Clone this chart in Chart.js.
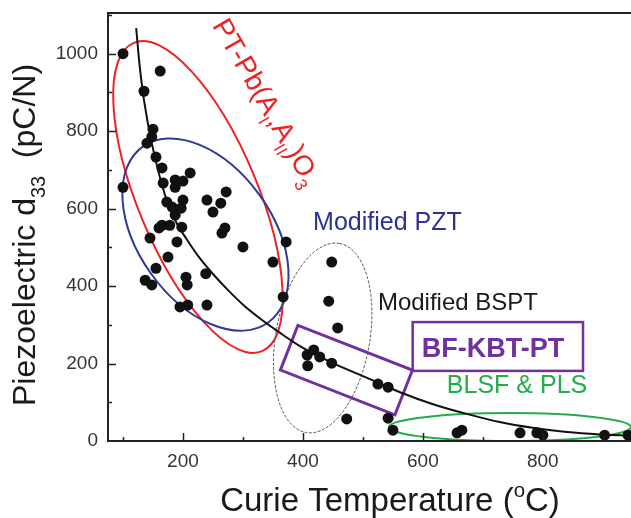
<!DOCTYPE html>
<html>
<head>
<meta charset="utf-8">
<script src="https://cdn.jsdelivr.net/npm/chart.js@4.4.0/dist/chart.umd.min.js"></script>
<style>
  html, body { margin: 0; padding: 0; background: #fff; overflow: hidden; }
  #wrap { width: 631px; height: 518px; position: relative; }
</style>
</head>
<body>
<div id="wrap"><canvas id="chart"></canvas></div>
<script>
// measured points (Curie temperature in C, d33 in pC/N)
var tempC = [100, 162, 135, 150, 148, 140, 155, 165, 167, 187, 200, 212, 187, 100, 272, 240, 200, 173, 263, 182,
             197, 250, 187, 165, 178, 160, 198, 270, 265, 145, 190, 300, 372, 175, 155, 350, 238, 137, 148, 205,
             207, 195, 208, 240, 367, 448, 443, 458, 407, 418, 428, 408, 448, 525, 542, 473, 542, 550, 657, 665,
             762, 790, 800, 903, 942];
var d33 = [1000, 955, 903, 805, 785, 769, 733, 705, 666, 674, 671, 692, 655, 655, 643, 622, 622, 617, 614, 604,
           601, 591, 583, 557, 557, 550, 552, 550, 537, 524, 514, 501, 514, 475, 446, 462, 432, 415, 403, 423,
           403, 346, 351, 351, 372, 462, 361, 292, 222, 235, 217, 194, 201, 147, 139, 57, 59, 28, 21, 28,
           21, 21, 15, 15, 15];

// fitted trend line
var fitTemp = [122, 128, 135, 148, 170, 187, 207, 228, 253, 278, 303, 328, 362, 395, 450, 507, 562, 617, 673, 728, 783, 840, 895, 947];
var fitD33 = [1066, 965, 880, 769, 635, 570, 519, 472, 426, 385, 348, 317, 279, 245, 201, 163, 126, 95, 70, 49, 34, 23, 17, 14];

var xTickLabels = [200, 400, 600, 800];
var yTickLabels = [0, 200, 400, 600, 800, 1000];

var FONT = "'Liberation Sans', Arial, sans-serif";

// group outlines: centre in data units, radii in px, rotation in degrees
var ellipses = [
    { x: 225, y: 630, rx: 167, ry: 60, rot: 67.4, color: '#ee2126', width: 2, dash: [] },
    { x: 237.5, y: 533, rx: 108, ry: 67, rot: 54.5, color: '#2e3a9c', width: 2, dash: [] },
    { x: 433, y: 266, rx: 96, ry: 47, rot: -80, color: '#555555', width: 1, dash: [3, 1.5] },
    { x: 745, y: 36, rx: 121, ry: 14, rot: 0, color: '#22ad4b', width: 2, dash: [] }
];
var box = { x: 472.5, y: 183, w: 123, h: 48, rot: 21.4, color: '#7030a0', width: 3 };

var notes = [
    { parts: [['Modified PZT', '']], x: 417, y: 545, size: 25, color: '#2e3192', weight: '' },
    { parts: [['Modified BSPT', '']], x: 525, y: 338, size: 24, color: '#1a1a1a', weight: '' },
    { parts: [['BLSF & PLS', '']], x: 640, y: 124, size: 25, color: '#22ad4b', weight: '' },
    { parts: [['BF-KBT-PT', '']], x: 598, y: 217, size: 27, color: '#7030a0', weight: 'bold ' }
];
var labelBox = { x1: 583, y1: 307, x2: 867, y2: 181, color: '#7030a0', width: 2.5 };
var redNote = { parts: [['PT-Pb(A', ''], ['I', 'sub'], [',A', ''], ['II', 'sub'], [')O', ''], ['3', 'sub']],
    x: 248, y: 1073, size: 28, rot: 60, color: '#ee2126' };

function drawRich(ctx, parts, x, y, size, weight, align) {
    var total = 0;
    parts.forEach(function (p) {
        ctx.font = weight + (p[1] ? size * 0.62 : size) + 'px ' + FONT;
        total += ctx.measureText(p[0]).width;
    });
    var cx = align === 'center' ? x - total / 2 : x;
    parts.forEach(function (p) {
        var s = p[1] ? size * 0.62 : size;
        ctx.font = weight + s + 'px ' + FONT;
        var dy = p[1] === 'sub' ? size * 0.3 : (p[1] === 'sup' ? -size * 0.42 : 0);
        ctx.fillText(p[0], cx, y + dy);
        cx += ctx.measureText(p[0]).width;
    });
}

var decor = {
    id: 'decor',
    beforeDatasetsDraw: function (chart) {
        var ctx = chart.ctx, xs = chart.scales.x, ys = chart.scales.y;
        ctx.save();
        ellipses.forEach(function (e) {
            ctx.beginPath();
            ctx.ellipse(xs.getPixelForValue(e.x), ys.getPixelForValue(e.y), e.rx, e.ry, e.rot * Math.PI / 180, 0, Math.PI * 2);
            ctx.strokeStyle = e.color;
            ctx.lineWidth = e.width;
            ctx.setLineDash(e.dash);
            ctx.stroke();
        });
        ctx.setLineDash([]);
        ctx.translate(xs.getPixelForValue(box.x), ys.getPixelForValue(box.y));
        ctx.rotate(box.rot * Math.PI / 180);
        ctx.strokeStyle = box.color;
        ctx.lineWidth = box.width;
        ctx.strokeRect(-box.w / 2, -box.h / 2, box.w, box.h);
        ctx.restore();
    },
    afterDraw: function (chart) {
        var ctx = chart.ctx, xs = chart.scales.x, ys = chart.scales.y, a = chart.chartArea;
        ctx.save();
        // axes and top frame
        ctx.strokeStyle = '#222';
        ctx.lineWidth = 2;
        ctx.beginPath();
        ctx.moveTo(chart.width, a.top);
        ctx.lineTo(a.left, a.top);
        ctx.lineTo(a.left, a.bottom);
        ctx.lineTo(chart.width, a.bottom);
        ctx.stroke();
        // inward ticks
        ctx.lineWidth = 1.5;
        ctx.beginPath();
        for (var v = 100; v < xs.max; v += 100) {
            var px = Math.round(xs.getPixelForValue(v)) + 0.5;
            var len = v % 200 === 0 ? 8 : 4;
            ctx.moveTo(px, a.bottom);
            ctx.lineTo(px, a.bottom - len);
        }
        for (var w = 100; w < ys.max; w += 100) {
            var py = Math.round(ys.getPixelForValue(w)) + 0.5;
            var l2 = w % 200 === 0 ? 8 : 4;
            ctx.moveTo(a.left, py);
            ctx.lineTo(a.left + l2, py);
        }
        ctx.stroke();

        // axis titles
        ctx.fillStyle = '#1a1a1a';
        ctx.textBaseline = 'alphabetic';
        drawRich(ctx, [['Curie Temperature (', ''], ['o', 'sup'], ['C)', '']], 390, 511, 33, '', 'center');
        ctx.save();
        ctx.translate(35, 235);
        ctx.rotate(-Math.PI / 2);
        drawRich(ctx, [['Piezoelectric d', ''], ['33', 'sub'], ['  (pC/N)', '']], 0, 0, 32, '', 'center');
        ctx.restore();

        // notes
        notes.forEach(function (n) {
            ctx.fillStyle = n.color;
            drawRich(ctx, n.parts, xs.getPixelForValue(n.x), ys.getPixelForValue(n.y), n.size, n.weight, 'left');
        });
        var bx1 = xs.getPixelForValue(labelBox.x1), by1 = ys.getPixelForValue(labelBox.y1);
        var bx2 = xs.getPixelForValue(labelBox.x2), by2 = ys.getPixelForValue(labelBox.y2);
        ctx.strokeStyle = labelBox.color;
        ctx.lineWidth = labelBox.width;
        ctx.strokeRect(bx1, by1, bx2 - bx1, by2 - by1);

        ctx.save();
        ctx.translate(xs.getPixelForValue(redNote.x), ys.getPixelForValue(redNote.y));
        ctx.rotate(redNote.rot * Math.PI / 180);
        ctx.fillStyle = redNote.color;
        drawRich(ctx, redNote.parts, 0, 0, redNote.size, '', 'left');
        ctx.restore();
        ctx.restore();
    }
};

var points = [];
for (var i = 0; i < tempC.length; i++) {
    points.push({ x: tempC[i], y: d33[i] });
}
var fit = [];
for (var j = 0; j < fitTemp.length; j++) {
    fit.push({ x: fitTemp[j], y: fitD33[j] });
}

new Chart(document.getElementById('chart').getContext('2d'), {
    type: 'scatter',
    data: {
        datasets: [{
            data: points,
            backgroundColor: '#111',
            borderColor: '#111',
            borderWidth: 0,
            pointRadius: 5.5
        }, {
            data: fit,
            showLine: true,
            borderColor: '#111',
            borderWidth: 2,
            pointRadius: 0,
            cubicInterpolationMode: 'monotone'
        }]
    },
    options: {
        responsive: true,
        maintainAspectRatio: false,
        animation: false,
        layout: { autoPadding: false, padding: { top: 13, right: 0, left: 0, bottom: 0 } },
        plugins: { legend: { display: false }, tooltip: { enabled: false } },
        scales: {
            x: {
                type: 'linear',
                min: 75,
                max: 947,
                grid: { display: false, drawTicks: false },
                border: { display: false },
                afterBuildTicks: function (s) { s.ticks = xTickLabels.map(function (v) { return { value: v }; }); },
                afterFit: function (s) { s.height = 77; s.paddingLeft = 0; s.paddingRight = 0; },
                ticks: {
                    autoSkip: false,
                    maxRotation: 0,
                    padding: 9,
                    color: '#333',
                    font: { family: FONT, size: 19 },
                    callback: function (v) { return String(v); }
                }
            },
            y: {
                type: 'linear',
                min: 0,
                max: 1105,
                grid: { display: false, drawTicks: false },
                border: { display: false },
                afterBuildTicks: function (s) { s.ticks = yTickLabels.map(function (v) { return { value: v }; }); },
                afterFit: function (s) { s.width = 108; s.paddingTop = 0; s.paddingBottom = 0; },
                ticks: {
                    autoSkip: false,
                    padding: 10,
                    color: '#333',
                    font: { family: FONT, size: 19 },
                    callback: function (v) { return String(v); }
                }
            }
        }
    },
    plugins: [decor]
});
</script>
</body>
</html>
